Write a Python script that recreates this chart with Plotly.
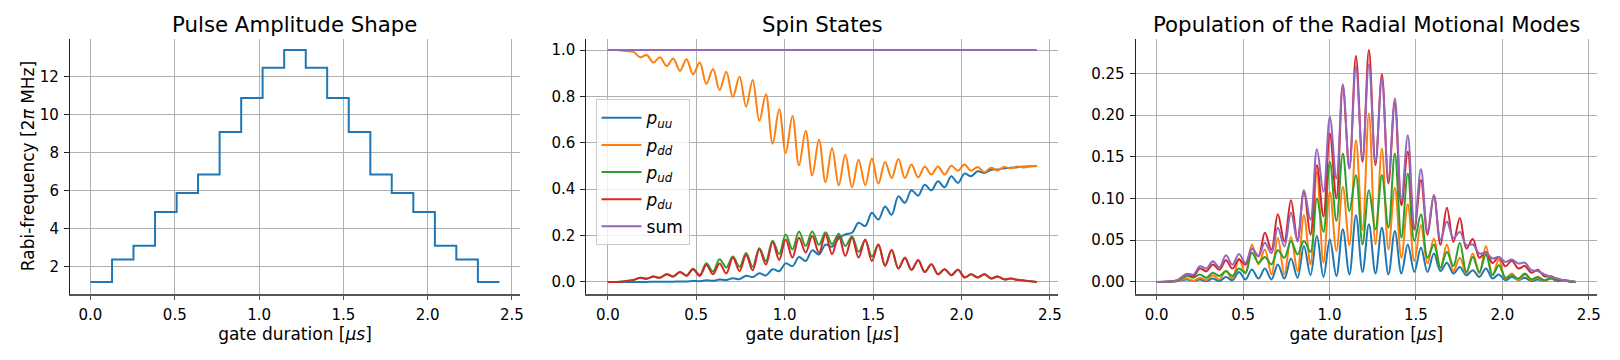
import plotly.graph_objects as go

# ---------------- Panel 1: pulse amplitude (piecewise constant) ----------------
step_edges = [0.000, 0.128, 0.255, 0.383, 0.511, 0.638, 0.766, 0.894, 1.021, 1.149,
              1.277, 1.404, 1.532, 1.660, 1.787, 1.915, 2.043, 2.170, 2.298, 2.426]
rabi_freq = [1.21, 2.39, 3.11, 4.89, 5.89, 6.86, 9.09, 10.88, 12.47, 13.40,
             12.47, 10.88, 9.09, 6.86, 5.89, 4.89, 3.11, 2.39, 1.21]

# ---------------- Panel 2: spin states (values at extrema) ----------------
t_spin = [0.000, 0.050, 0.100, 0.145, 0.183, 0.220, 0.258, 0.295, 0.333, 0.370,
          0.408, 0.445, 0.482, 0.520, 0.557, 0.595, 0.632, 0.670, 0.707, 0.745,
          0.782, 0.819, 0.857, 0.894, 0.932, 0.969, 1.006, 1.044, 1.081, 1.119,
          1.156, 1.194, 1.231, 1.268, 1.306, 1.343, 1.381, 1.418, 1.456, 1.493,
          1.530, 1.568, 1.605, 1.643, 1.680, 1.717, 1.755, 1.792, 1.830, 1.867,
          1.905, 1.942, 1.980, 2.017, 2.054, 2.092, 2.129, 2.167, 2.204, 2.241,
          2.279, 2.316, 2.354, 2.391, 2.426]
p_uu = [0.000, 0.000, 0.000, 0.000, 0.000, 0.000, 0.001, 0.001, 0.001, 0.001,
        0.002, 0.002, 0.004, 0.003, 0.007, 0.005, 0.010, 0.008, 0.016, 0.012,
        0.027, 0.021, 0.037, 0.028, 0.055, 0.046, 0.080, 0.068, 0.107, 0.090,
        0.136, 0.118, 0.161, 0.152, 0.187, 0.205, 0.212, 0.255, 0.241, 0.298,
        0.269, 0.325, 0.290, 0.369, 0.341, 0.395, 0.372, 0.419, 0.395, 0.434,
        0.408, 0.456, 0.427, 0.467, 0.456, 0.477, 0.470, 0.484, 0.485, 0.490,
        0.492, 0.495, 0.497, 0.499, 0.500]
p_dd = [1.000, 1.000, 0.996, 0.992, 0.969, 0.979, 0.946, 0.969, 0.931, 0.964,
        0.910, 0.961, 0.896, 0.946, 0.854, 0.918, 0.828, 0.907, 0.797, 0.885,
        0.756, 0.871, 0.695, 0.810, 0.596, 0.745, 0.556, 0.716, 0.503, 0.652,
        0.459, 0.613, 0.430, 0.578, 0.417, 0.549, 0.408, 0.527, 0.417, 0.532,
        0.424, 0.517, 0.448, 0.530, 0.448, 0.506, 0.451, 0.498, 0.463, 0.498,
        0.463, 0.501, 0.480, 0.506, 0.480, 0.496, 0.473, 0.492, 0.481, 0.496,
        0.490, 0.498, 0.494, 0.499, 0.500]
p_ud = [0.000, 0.000, 0.003, 0.008, 0.018, 0.014, 0.023, 0.018, 0.033, 0.023,
        0.043, 0.027, 0.057, 0.030, 0.080, 0.045, 0.098, 0.062, 0.110, 0.065,
        0.125, 0.065, 0.145, 0.090, 0.178, 0.120, 0.205, 0.140, 0.217, 0.155,
        0.217, 0.160, 0.214, 0.163, 0.208, 0.155, 0.196, 0.130, 0.180, 0.110,
        0.158, 0.070, 0.138, 0.058, 0.102, 0.052, 0.092, 0.043, 0.076, 0.033,
        0.055, 0.029, 0.052, 0.019, 0.033, 0.019, 0.033, 0.015, 0.023, 0.011,
        0.015, 0.009, 0.006, 0.003, 0.000]
p_du = [0.000, 0.000, 0.003, 0.008, 0.018, 0.014, 0.023, 0.018, 0.033, 0.023,
        0.043, 0.027, 0.055, 0.026, 0.073, 0.033, 0.079, 0.036, 0.105, 0.047,
        0.116, 0.050, 0.141, 0.075, 0.172, 0.095, 0.183, 0.105, 0.191, 0.126,
        0.198, 0.126, 0.205, 0.120, 0.198, 0.112, 0.191, 0.105, 0.183, 0.090,
        0.162, 0.070, 0.138, 0.058, 0.105, 0.052, 0.095, 0.043, 0.076, 0.033,
        0.055, 0.029, 0.052, 0.019, 0.033, 0.019, 0.033, 0.015, 0.023, 0.011,
        0.015, 0.009, 0.006, 0.003, 0.000]
t_sum = [0.000, 2.426]
p_sum = [1.000, 1.000]

# ---------------- Panel 3: radial motional mode populations ----------------
t_mode = [0.000, 0.060, 0.120, 0.175, 0.213, 0.250, 0.288, 0.325, 0.363, 0.401,
          0.438, 0.476, 0.514, 0.551, 0.589, 0.626, 0.664, 0.701, 0.739, 0.777,
          0.815, 0.852, 0.890, 0.927, 0.965, 1.002, 1.040, 1.077, 1.115, 1.153,
          1.191, 1.228, 1.266, 1.303, 1.341, 1.378, 1.416, 1.453, 1.491, 1.529,
          1.567, 1.604, 1.642, 1.679, 1.717, 1.754, 1.792, 1.829, 1.867, 1.905,
          1.943, 1.980, 2.018, 2.055, 2.093, 2.130, 2.168, 2.205, 2.243, 2.281,
          2.319, 2.356, 2.394, 2.426]
mode_1 = [0.000, 0.0002, 0.001, 0.003, 0.001, 0.003, 0.001, 0.004, 0.001, 0.006,
          0.002, 0.012, 0.003, 0.015, 0.004, 0.016, 0.003, 0.021, 0.004, 0.028,
          0.005, 0.043, 0.008, 0.055, 0.006, 0.051, 0.007, 0.063, 0.009, 0.080,
          0.012, 0.069, 0.010, 0.065, 0.009, 0.061, 0.010, 0.045, 0.012, 0.041,
          0.012, 0.034, 0.013, 0.023, 0.010, 0.018, 0.008, 0.014, 0.006, 0.016,
          0.004, 0.009, 0.002, 0.006, 0.002, 0.005, 0.001, 0.003, 0.001, 0.005,
          0.001, 0.002, 0.000, 0.000]
mode_2 = [0.000, 0.0002, 0.001, 0.004, 0.001, 0.005, 0.002, 0.008, 0.003, 0.013,
          0.004, 0.028, 0.010, 0.045, 0.021, 0.039, 0.009, 0.053, 0.009, 0.054,
          0.013, 0.080, 0.021, 0.132, 0.023, 0.108, 0.037, 0.114, 0.044, 0.170,
          0.062, 0.202, 0.045, 0.160, 0.039, 0.113, 0.029, 0.093, 0.025, 0.068,
          0.022, 0.052, 0.016, 0.045, 0.013, 0.029, 0.010, 0.034, 0.010, 0.043,
          0.008, 0.027, 0.004, 0.010, 0.002, 0.009, 0.002, 0.005, 0.001, 0.004,
          0.001, 0.002, 0.000, 0.000]
mode_3 = [0.000, 0.0002, 0.001, 0.007, 0.005, 0.009, 0.005, 0.011, 0.007, 0.013,
          0.007, 0.016, 0.011, 0.035, 0.023, 0.030, 0.021, 0.038, 0.029, 0.049,
          0.033, 0.049, 0.036, 0.100, 0.060, 0.144, 0.073, 0.154, 0.085, 0.128,
          0.045, 0.110, 0.063, 0.128, 0.065, 0.154, 0.053, 0.130, 0.049, 0.081,
          0.029, 0.045, 0.017, 0.036, 0.019, 0.047, 0.012, 0.030, 0.012, 0.033,
          0.008, 0.020, 0.005, 0.008, 0.004, 0.010, 0.003, 0.006, 0.002, 0.004,
          0.001, 0.002, 0.000, 0.000]
mode_4 = [0.000, 0.0003, 0.002, 0.0096, 0.0067, 0.016, 0.0127, 0.021, 0.0147, 0.026,
          0.016, 0.027, 0.0207, 0.040, 0.031, 0.059, 0.0386, 0.081, 0.0486, 0.098,
          0.0506, 0.108, 0.0566, 0.140, 0.0785, 0.178, 0.100, 0.235, 0.136, 0.271,
          0.144, 0.278, 0.140, 0.249, 0.118, 0.215, 0.092, 0.156, 0.0626, 0.122,
          0.0566, 0.104, 0.0446, 0.089, 0.048, 0.0766, 0.040, 0.0515, 0.029, 0.036,
          0.0227, 0.030, 0.0187, 0.0255, 0.016, 0.019, 0.011, 0.0147, 0.0067, 0.0067,
          0.003, 0.002, 0.001, 0.000]
mode_5 = [0.000, 0.0003, 0.002, 0.0096, 0.0088, 0.0187, 0.016, 0.0247, 0.0175, 0.032,
          0.0207, 0.0335, 0.0227, 0.040, 0.0306, 0.047, 0.0346, 0.065, 0.0426, 0.083,
          0.0486, 0.110, 0.0745, 0.159, 0.108, 0.198, 0.124, 0.237, 0.136, 0.258,
          0.148, 0.261, 0.144, 0.244, 0.124, 0.220, 0.098, 0.176, 0.066, 0.1355,
          0.0606, 0.104, 0.0506, 0.0725, 0.0526, 0.060, 0.044, 0.045, 0.034, 0.035,
          0.028, 0.030, 0.024, 0.027, 0.022, 0.023, 0.014, 0.013, 0.009, 0.006,
          0.004, 0.002, 0.001, 0.000]

x_ticks = [0.0, 0.5, 1.0, 1.5, 2.0, 2.5]
x_ticktext = ["0.0", "0.5", "1.0", "1.5", "2.0", "2.5"]
y1_ticks = [2, 4, 6, 8, 10, 12]
y2_ticks = [0.0, 0.2, 0.4, 0.6, 0.8, 1.0]
y2_ticktext = ["0.0", "0.2", "0.4", "0.6", "0.8", "1.0"]
y3_ticks = [0.00, 0.05, 0.10, 0.15, 0.20, 0.25]
y3_ticktext = ["0.00", "0.05", "0.10", "0.15", "0.20", "0.25"]

C = ["#1f77b4", "#ff7f0e", "#2ca02c", "#d62728", "#9467bd"]
FONT = "DejaVu Sans"
LW = 2.0

fig = go.Figure()

# panel 1
fig.add_trace(go.Scatter(x=step_edges, y=rabi_freq + [rabi_freq[-1]], mode="lines",
                         line=dict(color=C[0], width=LW, shape="hv"),
                         showlegend=False, xaxis="x", yaxis="y"))

# panel 2
spin_series = [("<i>p</i><sub><i>uu</i></sub>", t_spin, p_uu),
               ("<i>p</i><sub><i>dd</i></sub>", t_spin, p_dd),
               ("<i>p</i><sub><i>ud</i></sub>", t_spin, p_ud),
               ("<i>p</i><sub><i>du</i></sub>", t_spin, p_du),
               ("sum", t_sum, p_sum)]
for i, (name, xs, ys) in enumerate(spin_series):
    fig.add_trace(go.Scatter(x=xs, y=ys, mode="lines", name=name, legendgroup="g%d" % i,
                             line=dict(color=C[i], width=LW, shape="spline", smoothing=1.0),
                             showlegend=True, xaxis="x2", yaxis="y2"))

# panel 3
for i, ys in enumerate([mode_1, mode_2, mode_3, mode_4, mode_5]):
    fig.add_trace(go.Scatter(x=t_mode, y=ys, mode="lines",
                             line=dict(color=C[i], width=LW, shape="spline", smoothing=1.0),
                             showlegend=False, xaxis="x3", yaxis="y3"))

W, H = 1620, 360
top_px, bot_px = 38.5, 293.5
ydom = [1 - bot_px / H, 1 - top_px / H]
doms = [[70.2 / W, 521.2 / W], [587.8 / W, 1060.9 / W], [1138.5 / W, 1600.9 / W]]
xr = [-0.1213, 2.5473]

tickfont = dict(family=FONT, size=15, color="#000000")
titlefont = dict(family=FONT, size=17, color="#000000")

def xaxis(dom, anchor):
    return dict(domain=dom, anchor=anchor, range=xr, tickvals=x_ticks, ticktext=x_ticktext,
                showgrid=True, gridcolor="#b0b0b0", gridwidth=0.9, zeroline=False,
                showline=True, linecolor="#555555", linewidth=1.6, mirror=False,
                ticks="outside", ticklen=5, tickwidth=1, tickcolor="#555555",
                tickfont=tickfont, ticklabelstandoff=2,
                title=dict(text="gate duration [<i>μs</i>]", font=titlefont, standoff=0))

def yaxis(anchor, rng, tv, tt, title=None):
    d = dict(domain=ydom, anchor=anchor, range=rng, tickvals=tv, ticktext=tt,
             showgrid=True, gridcolor="#b0b0b0", gridwidth=0.9, zeroline=False,
             showline=True, linecolor="#222222", linewidth=1.2, mirror=False,
             ticks="outside", ticklen=5, tickwidth=1, tickcolor="#222222",
             tickfont=tickfont, ticklabelstandoff=2)
    if title:
        d["title"] = dict(text=title, font=titlefont, standoff=0)
    return d

fig.update_layout(
    width=W, height=H, autosize=False,
    margin=dict(l=0, r=0, t=0, b=0),
    paper_bgcolor="white", plot_bgcolor="white",
    font=dict(family=FONT, color="#000000"),
    xaxis=xaxis(doms[0], "y"),
    xaxis2=xaxis(doms[1], "y2"),
    xaxis3=xaxis(doms[2], "y3"),
    yaxis=yaxis("x", [0.60, 14.01], y1_ticks, [str(v) for v in y1_ticks],
                "Rabi-frequency [2<i>π</i> MHz]"),
    yaxis2=yaxis("x2", [-0.05, 1.05], y2_ticks, y2_ticktext),
    yaxis3=yaxis("x3", [-0.0139, 0.2919], y3_ticks, y3_ticktext),
    legend=dict(x=597 / W, y=1 - 99.3 / H, xanchor="left", yanchor="top",
                bgcolor="rgba(255,255,255,0.8)", bordercolor="#cccccc", borderwidth=1,
                font=dict(family=FONT, size=17, color="#000000"),
                itemwidth=40, tracegroupgap=2),
    showlegend=True,
)

titles = ["Pulse Amplitude Shape", "Spin States", "Population of the Radial Motional Modes"]
for dom, t in zip(doms, titles):
    fig.add_annotation(text=t, x=(dom[0] + dom[1]) / 2, y=1 - 24.5 / H, xref="paper", yref="paper",
                       xanchor="center", yanchor="middle", showarrow=False,
                       font=dict(family=FONT, size=21.3, color="#000000"))

fig.write_html("out.html", config={"displayModeBar": False},
               post_script="document.body.style.margin='0';document.body.style.overflow='hidden';")
